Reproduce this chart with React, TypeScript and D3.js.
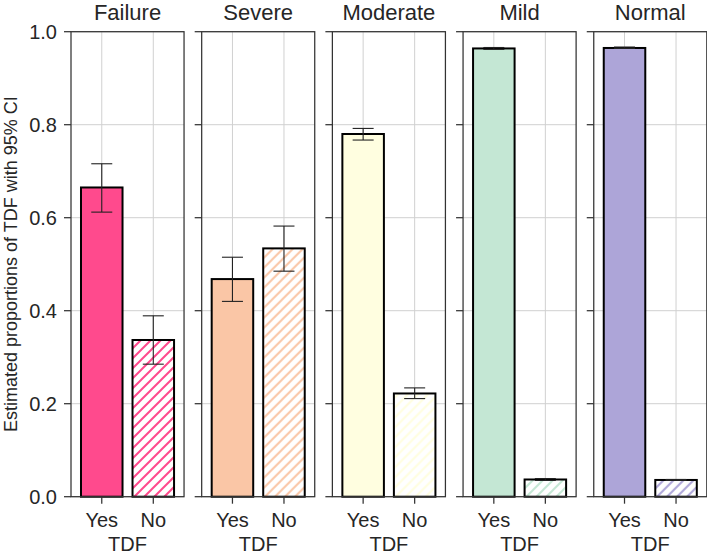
import React from "react";
import * as d3 from "d3";

const groups = ["Failure", "Severe", "Moderate", "Mild", "Normal"];
const levels = ["Yes", "No"];
const colors = ["#FF4A8D", "#FAC6A6", "#FFFEE0", "#C4E7D4", "#ADA5D8"];
const yesValues = [0.665, 0.468, 0.78, 0.964, 0.965];
const yesLow = [0.612, 0.42, 0.767, 0.962, 0.964];
const yesHigh = [0.716, 0.515, 0.792, 0.966, 0.967];
const noValues = [0.337, 0.534, 0.222, 0.037, 0.036];
const noLow = [0.285, 0.485, 0.211, 0.035, 0.035];
const noHigh = [0.389, 0.582, 0.234, 0.039, 0.037];
const yTicks = [0, 0.2, 0.4, 0.6, 0.8, 1.0];

const W = 707;
const H = 554;
const FONT = "'Liberation Sans', Arial, Helvetica, sans-serif";
const TXT = "#262626";
const SPINE = "#333333";
const GRID = "#d0d0d0";

export default function App() {
  const outer = d3.scaleBand<string>().domain(groups).range([71, 706.8]).paddingInner(0.135).paddingOuter(0);
  const pw = outer.bandwidth();
  const inner = d3.scaleBand<string>().domain(levels).range([0, pw]).paddingInner(0.194).paddingOuter(0.194);
  const y = d3.scaleLinear().domain([0, 1]).range([496.7, 31.7]);
  const bw = inner.bandwidth();
  const capHalf = 10.5;

  return (
    <svg width={W} height={H} style={{ position: "absolute", left: 0, top: 0, background: "#fff" }} fontFamily={FONT}>
      <defs>
        {groups.map((g, i) => (
          <pattern key={g} id={`hatch${i}`} patternUnits="userSpaceOnUse" width={10} height={10}>
            <rect width={10} height={10} fill="#fff" />
            <path d="M-2.5,2.5 L2.5,-2.5 M0,10 L10,0 M7.5,12.5 L12.5,7.5" stroke={colors[i]} strokeWidth={2} />
          </pattern>
        ))}
      </defs>
      <rect width={W} height={H} fill="#fff" />
      {groups.map((g, gi) => {
        const x0 = outer(g)!;
        const vals = [yesValues[gi], noValues[gi]];
        const lows = [yesLow[gi], noLow[gi]];
        const highs = [yesHigh[gi], noHigh[gi]];
        return (
          <g key={g} transform={`translate(${x0},0)`}>
            {yTicks.map((t) => (
              <line key={t} x1={0} x2={pw} y1={y(t)} y2={y(t)} stroke={GRID} strokeWidth={1} />
            ))}
            {levels.map((l) => {
              const cx = inner(l)! + bw / 2;
              return <line key={l} x1={cx} x2={cx} y1={y(0)} y2={y(1)} stroke={GRID} strokeWidth={1} />;
            })}
            {levels.map((l, li) => (
              <rect
                key={l}
                x={inner(l)!}
                y={y(vals[li])}
                width={bw}
                height={y(0) - y(vals[li])}
                fill={li === 0 ? colors[gi] : `url(#hatch${gi})`}
                stroke="#000"
                strokeWidth={2}
              />
            ))}
            {levels.map((l, li) => {
              const cx = inner(l)! + bw / 2;
              return (
                <g key={l} stroke="#222" strokeWidth={1.1}>
                  <line x1={cx} x2={cx} y1={y(lows[li])} y2={y(highs[li])} />
                  <line x1={cx - capHalf} x2={cx + capHalf} y1={y(lows[li])} y2={y(lows[li])} />
                  <line x1={cx - capHalf} x2={cx + capHalf} y1={y(highs[li])} y2={y(highs[li])} />
                </g>
              );
            })}
            <rect x={0} y={y(1)} width={pw} height={y(0) - y(1)} fill="none" stroke={SPINE} strokeWidth={1.25} />
            {yTicks.map((t) => (
              <line key={t} x1={-7} x2={0} y1={y(t)} y2={y(t)} stroke={SPINE} strokeWidth={1.25} />
            ))}
            {gi === 0 &&
              yTicks.map((t) => (
                <text key={t} x={-14} y={y(t)} dy="0.35em" textAnchor="end" fontSize={20} fill={TXT}>
                  {d3.format(".1f")(t)}
                </text>
              ))}
            {levels.map((l) => {
              const cx = inner(l)! + bw / 2;
              return (
                <g key={l}>
                  <line x1={cx} x2={cx} y1={y(0)} y2={y(0) + 7} stroke={SPINE} strokeWidth={1.25} />
                  <text x={cx} y={527} textAnchor="middle" fontSize={20} fill={TXT}>
                    {l}
                  </text>
                </g>
              );
            })}
            <text x={pw / 2} y={551} textAnchor="middle" fontSize={20} fill={TXT}>
              TDF
            </text>
            <text x={pw / 2} y={20} textAnchor="middle" fontSize={22} fill={TXT}>
              {g}
            </text>
          </g>
        );
      })}
      <text
        transform={`translate(17,${(y(0) + y(1)) / 2}) rotate(-90)`}
        textAnchor="middle"
        fontSize={18}
        fill={TXT}
      >
        Estimated proportions of TDF with 95% CI
      </text>
    </svg>
  );
}
